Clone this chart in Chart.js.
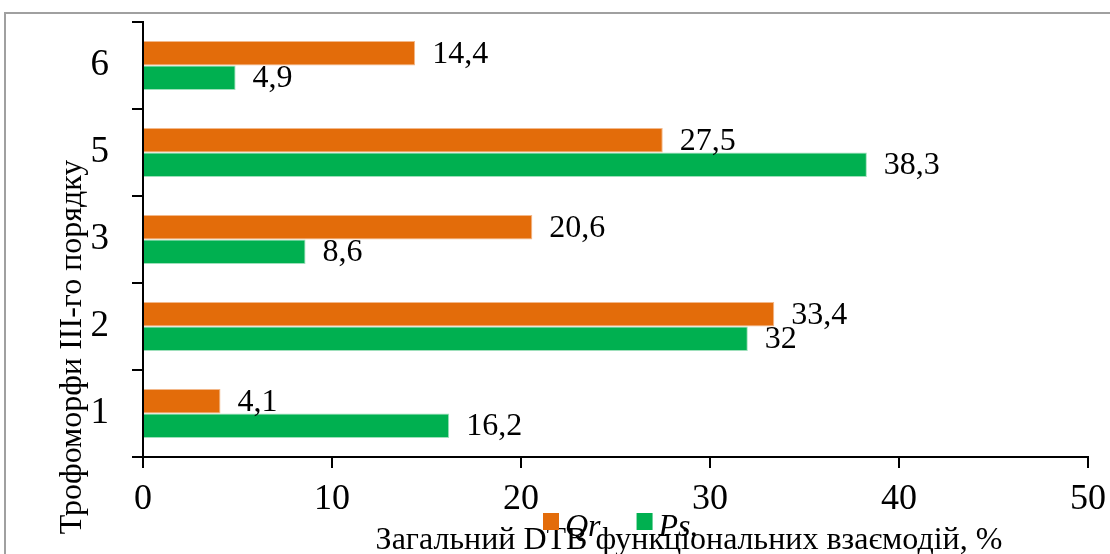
<!DOCTYPE html>
<html>
<head>
<meta charset="utf-8">
<script src="https://cdn.jsdelivr.net/npm/chart.js@4/dist/chart.umd.min.js"></script>
<style>
  html, body { margin: 0; padding: 0; background: #fff; }
  #wrap { position: relative; width: 1110px; height: 554px; overflow: hidden; }
  #frame { position: absolute; left: 4px; top: 12px; width: 1200px; height: 700px;
    border-left: 2px solid #a0a0a0; border-top: 2px solid #a0a0a0; box-sizing: border-box; }
  canvas { position: absolute; left: 0; top: 0; }
</style>
</head>
<body>
<div id="wrap">
  <div id="frame"></div>
  <canvas id="chart" width="1110" height="554"></canvas>
</div>
<script>
/* Трофоморфи ІІІ-го порядку: загальний DTB функціональних взаємодій */
const categories = ['6', '5', '3', '2', '1'];
const qrValues = [14.4, 27.5, 20.6, 33.4, 4.1];
const psValues = [4.9, 38.3, 8.6, 32, 16.2];
const xTicks = [0, 10, 20, 30, 40, 50];
const seriesNames = ['Qr', 'Ps.'];

const SERIF = "'Liberation Serif', 'Times New Roman', serif";
const ORANGE = '#E36C0A';
const GREEN = '#00B050';

const fmt = (v) => String(v).replace('.', ',');

// value labels at the end of each bar
const barLabels = {
  id: 'barLabels',
  afterDatasetsDraw(chart) {
    const ctx = chart.ctx;
    ctx.save();
    ctx.font = `32px ${SERIF}`;
    ctx.fillStyle = '#000';
    ctx.textBaseline = 'middle';
    ctx.textAlign = 'left';
    chart.data.datasets.forEach((ds, i) => {
      chart.getDatasetMeta(i).data.forEach((bar, j) => {
        ctx.fillText(fmt(ds.data[j]), bar.x + 17, bar.y + 1);
      });
    });
    ctx.restore();
  }
};

// axis titles and the legend, placed like in the source figure
const extras = {
  id: 'extras',
  afterDraw(chart) {
    const ctx = chart.ctx;
    ctx.save();
    ctx.fillStyle = '#000';
    ctx.font = `32px ${SERIF}`;
    ctx.textAlign = 'center';
    ctx.textBaseline = 'alphabetic';
    ctx.fillText('Загальний DTB функціональних взаємодій, %', 689, 549);

    ctx.save();
    ctx.translate(81, 347);
    ctx.rotate(-Math.PI / 2);
    ctx.fillText('Трофоморфи ІІІ-го порядку', 0, 0);
    ctx.restore();

    // legend
    let x = 543;
    ctx.font = `italic 32px ${SERIF}`;
    ctx.textAlign = 'left';
    chart.data.datasets.forEach((ds) => {
      ctx.fillStyle = ds.backgroundColor;
      ctx.fillRect(x, 513, 16, 17);
      ctx.fillStyle = '#000';
      ctx.fillText(ds.label, x + 22, 536);
      x += 16 + 22 + ctx.measureText(ds.label).width + 20;
    });
    ctx.restore();
  }
};

new Chart(document.getElementById('chart'), {
  type: 'bar',
  data: {
    labels: categories,
    datasets: [
      { label: seriesNames[0], data: qrValues, backgroundColor: ORANGE, borderColor: '#F3B88A', borderWidth: 1 },
      { label: seriesNames[1], data: psValues, backgroundColor: GREEN, borderColor: '#9EE0BB', borderWidth: 1 },
    ],
  },
  options: {
    indexAxis: 'y',
    responsive: false,
    animation: false,
    categoryPercentage: 0.565,
    barPercentage: 1.0,
    layout: { padding: { top: 22, right: 22, left: 0, bottom: 0 } },
    plugins: { legend: { display: false }, tooltip: { enabled: false } },
    scales: {
      x: {
        min: xTicks[0], max: xTicks[xTicks.length - 1],
        afterBuildTicks: (s) => { s.ticks = xTicks.map((v) => ({ value: v })); },
        afterFit: (s) => { s.height = 97; s.paddingLeft = 0; s.paddingRight = 0; },
        grid: { drawOnChartArea: false, tickLength: 11, color: '#000', lineWidth: 2 },
        border: { color: '#000', width: 2 },
        ticks: { color: '#000', font: { family: SERIF, size: 36 }, padding: 10, maxRotation: 0 },
      },
      y: {
        afterFit: (s) => { s.width = 143; s.paddingTop = 0; s.paddingBottom = 0; },
        grid: { drawOnChartArea: false, tickLength: 11, color: '#000', lineWidth: 2 },
        border: { color: '#000', width: 2 },
        ticks: { color: '#000', font: { family: SERIF, size: 37 }, padding: 23 },
      },
    },
  },
  plugins: [barLabels, extras],
});
</script>
</body>
</html>
